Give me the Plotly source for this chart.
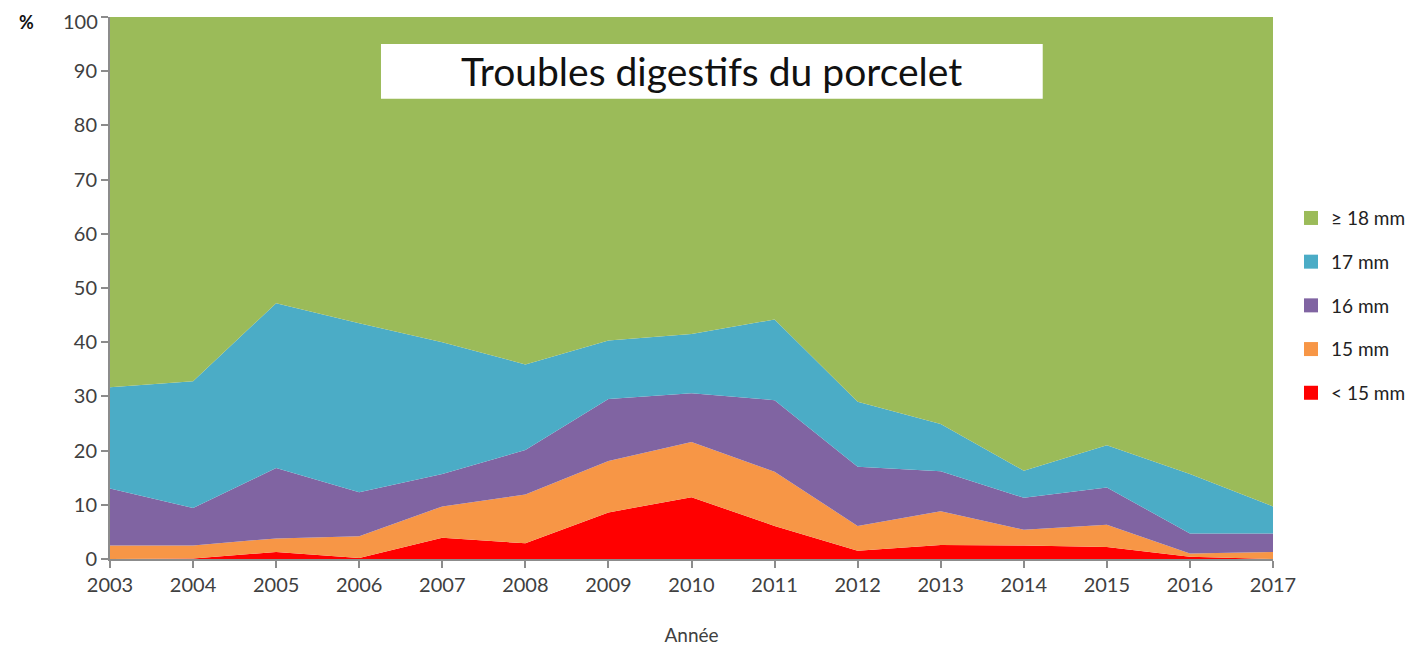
import plotly.graph_objects as go

years = [2003, 2004, 2005, 2006, 2007, 2008, 2009, 2010, 2011, 2012, 2013, 2014, 2015, 2016, 2017]
lt15 = [0.0, 0.1, 1.3, 0.2, 3.9, 2.9, 8.6, 11.4, 6.1, 1.5, 2.6, 2.5, 2.2, 0.4, 0.0]
mm15 = [2.5, 2.4, 2.5, 4.0, 5.8, 9.0, 9.5, 10.2, 10.0, 4.6, 6.2, 2.9, 4.1, 0.6, 1.3]
mm16 = [10.5, 6.9, 13.0, 8.1, 6.0, 8.2, 11.4, 9.0, 13.2, 10.9, 7.4, 5.9, 6.9, 3.7, 3.4]
mm17 = [18.7, 23.4, 30.4, 31.2, 24.3, 15.8, 10.8, 10.9, 14.9, 12.0, 8.7, 5.0, 7.8, 11.0, 5.0]
ge18 = [68.3, 67.2, 52.8, 56.5, 60.0, 64.1, 59.7, 58.5, 55.8, 71.0, 75.1, 83.7, 79.0, 84.3, 90.3]
y_ticks = [0, 10, 20, 30, 40, 50, 60, 70, 80, 90, 100]

series = [
    ("< 15 mm", lt15, "#FF0000"),
    ("15 mm", mm15, "#F79646"),
    ("16 mm", mm16, "#8064A2"),
    ("17 mm", mm17, "#4BACC6"),
    ("≥ 18 mm", ge18, "#9BBB59"),
]

FONT = "Lato"
fig = go.Figure()
for i, (name, vals, col) in enumerate(series):
    fig.add_trace(go.Scatter(
        x=years, y=vals, name=name, mode="lines",
        stackgroup="one", line=dict(width=0, color=col),
        fillcolor=col, showlegend=False, hoverinfo="x+y+name",
    ))
# legend entries with square swatches (top entry = top band)
n = len(series)
for i, (name, vals, col) in enumerate(series):
    fig.add_trace(go.Scatter(
        x=[None], y=[None], name=name, mode="markers",
        marker=dict(symbol="square", size=14, color=col),
        legendgroup=f"g{n - i}", legendrank=n - i, showlegend=True,
    ))

# the top tick label sits at the figure edge (plotly drops it), so it is drawn as an annotation
top_tick = y_ticks[-1]

# page body has an 8px default margin: figure is shifted by 8px
fig.update_layout(
    width=1409, height=638,
    margin=dict(l=102, r=144, t=9, b=87, autoexpand=False),
    paper_bgcolor="white", plot_bgcolor="white",
    font=dict(family=FONT, color="#404040", size=20),
    showlegend=True,
    legend=dict(
        x=1.0155, xanchor="left", y=0.664, yanchor="top",
        traceorder="grouped", tracegroupgap=16,
        font=dict(size=19, color="#222222"),
        itemwidth=30,
    ),
    xaxis=dict(
        range=[2003, 2017], tickmode="array", tickvals=years,
        ticktext=[str(y) for y in years],
        showgrid=False, zeroline=False, showline=True,
        linecolor="#8c8c8c", linewidth=2, ticks="outside",
        tickcolor="#8c8c8c", ticklen=7, tickwidth=2,
        tickfont=dict(size=20, color="#404040"),
        title=dict(text="Année", font=dict(size=19, color="#404040"), standoff=36),
    ),
    yaxis=dict(
        range=[0, 100], tickmode="array",
        tickvals=y_ticks,
        ticktext=[str(v) for v in y_ticks],
        showgrid=False, zeroline=False, showline=True,
        linecolor="#8c8c8c", linewidth=2, ticks="outside",
        tickcolor="#8c8c8c", ticklen=7, tickwidth=2,
        tickfont=dict(size=20, color="#404040"),
    ),
    shapes=[dict(
        type="rect", xref="paper", yref="paper",
        x0=0.233, x1=0.802, y0=0.849, y1=0.950,
        fillcolor="white", line=dict(width=0), layer="above",
    )],
    annotations=[
        dict(text="Troubles digestifs du porcelet", xref="paper", yref="paper",
             x=0.5175, y=0.8995, xanchor="center", yanchor="middle",
             showarrow=False, font=dict(size=39, color="#111111", family=FONT)),
        dict(text="<b>%</b>", xref="paper", yref="paper",
             x=-0.0714, y=0.991, xanchor="center", yanchor="middle",
             showarrow=False, font=dict(size=18, color="#111111", family=FONT)),
        dict(text=str(top_tick), xref="paper", yref="y",
             x=0, y=top_tick, xanchor="right", yanchor="top", xshift=-11, yshift=9,
             borderpad=0,
             showarrow=False, font=dict(size=20, color="#404040", family=FONT)),
    ],
)

fig.write_html("out.html")
